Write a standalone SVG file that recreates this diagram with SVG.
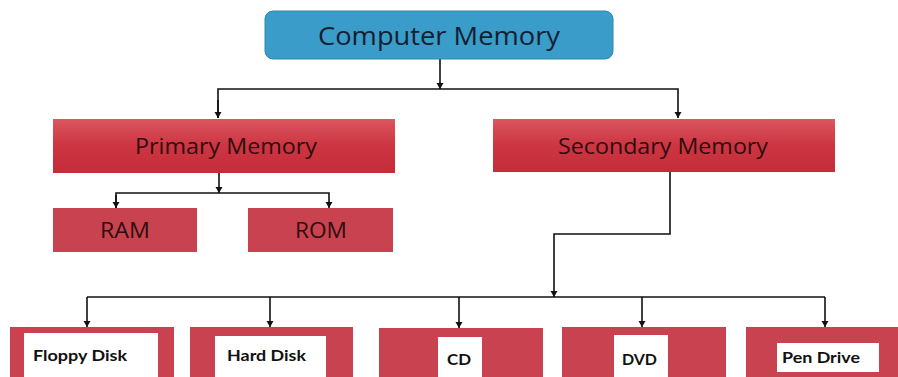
<svg xmlns="http://www.w3.org/2000/svg" width="898" height="377" viewBox="0 0 898 377">
<defs>
<linearGradient id="redg" x1="0" y1="0" x2="0" y2="1">
<stop offset="0" stop-color="#da565f"/>
<stop offset="0.5" stop-color="#cc3541"/>
<stop offset="1" stop-color="#c42c38"/>
</linearGradient>
<marker id="ad" markerWidth="8" markerHeight="8" refX="4" refY="7" orient="0" markerUnits="userSpaceOnUse" viewBox="0 0 8 8">
<path d="M0.5,1 L7.5,1 L4,7 Z" fill="#111"/>
</marker>
</defs>
<style>
.top{fill:#3a9cc8;stroke:#2f86b0;stroke-width:1}
.mid{fill:url(#redg)}
.low{fill:#c8434f}
.leaf{fill:#c8434f}
.inner{fill:#ffffff}
.t1{font-family:"Open Sans",Lato,"Liberation Sans",sans-serif;fill:#121f33;font-size:25px}
.t2{font-family:"Open Sans",Lato,"Liberation Sans",sans-serif;fill:#2e0d10;font-size:22px}
.t3{font-family:"Open Sans",Lato,"Liberation Sans",sans-serif;fill:#2e0d10;font-size:21px}
.t4{font-family:Lato,"Open Sans","Liberation Sans",sans-serif;fill:#111;font-size:16px;font-weight:bold}
.c{fill:none;stroke:#111;stroke-width:1.6}
</style>
<rect width="898" height="377" fill="#ffffff"/>
<g id="connectors">
<line class="c" x1="440" y1="59" x2="440" y2="89" marker-end="url(#ad)"/>
<polyline class="c" points="218,118 218,89 678,89 678,118" marker-end="url(#ad)"/>
<line class="c" x1="218" y1="100" x2="218" y2="118" marker-end="url(#ad)"/>
<line class="c" x1="219" y1="173" x2="219" y2="193" marker-end="url(#ad)"/>
<polyline class="c" points="116,208 116,193 329,193 329,208" marker-end="url(#ad)"/>
<line class="c" x1="116" y1="195" x2="116" y2="208" marker-end="url(#ad)"/>
<polyline class="c" points="670,172 670,234 554,234 554,297" marker-end="url(#ad)"/>
<line class="c" x1="87" y1="297" x2="825" y2="297"/>
<line class="c" x1="87" y1="297" x2="87" y2="327" marker-end="url(#ad)"/>
<line class="c" x1="270" y1="297" x2="270" y2="327" marker-end="url(#ad)"/>
<line class="c" x1="459" y1="297" x2="459" y2="328" marker-end="url(#ad)"/>
<line class="c" x1="642" y1="297" x2="642" y2="327" marker-end="url(#ad)"/>
<line class="c" x1="825" y1="297" x2="825" y2="327" marker-end="url(#ad)"/>
</g>
<g id="computer-memory">
<rect class="top" x="265" y="11" width="348" height="48" rx="8"/>
<text class="t1" x="439" y="45" text-anchor="middle" textLength="242" lengthAdjust="spacingAndGlyphs">Computer Memory</text>
</g>
<g id="primary-memory">
<rect class="mid" x="53" y="119" width="342" height="54"/>
<text class="t2" x="226" y="154" text-anchor="middle" textLength="182" lengthAdjust="spacingAndGlyphs">Primary Memory</text>
</g>
<g id="secondary-memory">
<rect class="mid" x="493" y="119" width="342" height="53"/>
<text class="t2" x="663" y="154" text-anchor="middle" textLength="210" lengthAdjust="spacingAndGlyphs">Secondary Memory</text>
</g>
<g id="ram">
<rect class="low" x="53" y="208" width="144" height="44"/>
<text class="t3" x="125" y="238" text-anchor="middle" textLength="50" lengthAdjust="spacingAndGlyphs">RAM</text>
</g>
<g id="rom">
<rect class="low" x="248" y="208" width="145" height="44"/>
<text class="t3" x="321" y="238" text-anchor="middle" textLength="52" lengthAdjust="spacingAndGlyphs">ROM</text>
</g>
<g id="floppy-disk">
<rect class="leaf" x="10" y="327" width="164" height="52"/>
<rect class="inner" x="24" y="333" width="134" height="46"/>
<text class="t4" x="33" y="361" textLength="94" lengthAdjust="spacingAndGlyphs">Floppy Disk</text>
</g>
<g id="hard-disk">
<rect class="leaf" x="190" y="327" width="163" height="52"/>
<rect class="inner" x="215" y="336" width="111" height="43"/>
<text class="t4" x="227" y="361" textLength="79" lengthAdjust="spacingAndGlyphs">Hard Disk</text>
</g>
<g id="cd">
<rect class="leaf" x="379" y="328" width="164" height="51"/>
<rect class="inner" x="438" y="337" width="44" height="42"/>
<text class="t4" x="447" y="365" textLength="24" lengthAdjust="spacingAndGlyphs">CD</text>
</g>
<g id="dvd">
<rect class="leaf" x="562" y="327" width="164" height="52"/>
<rect class="inner" x="614" y="335" width="54" height="44"/>
<text class="t4" x="622" y="365" textLength="35" lengthAdjust="spacingAndGlyphs">DVD</text>
</g>
<g id="pen-drive">
<rect class="leaf" x="746" y="327" width="152" height="52"/>
<rect class="inner" x="777" y="343" width="102" height="29"/>
<text class="t4" x="782" y="363" textLength="78" lengthAdjust="spacingAndGlyphs">Pen Drive</text>
</g>
</svg>
